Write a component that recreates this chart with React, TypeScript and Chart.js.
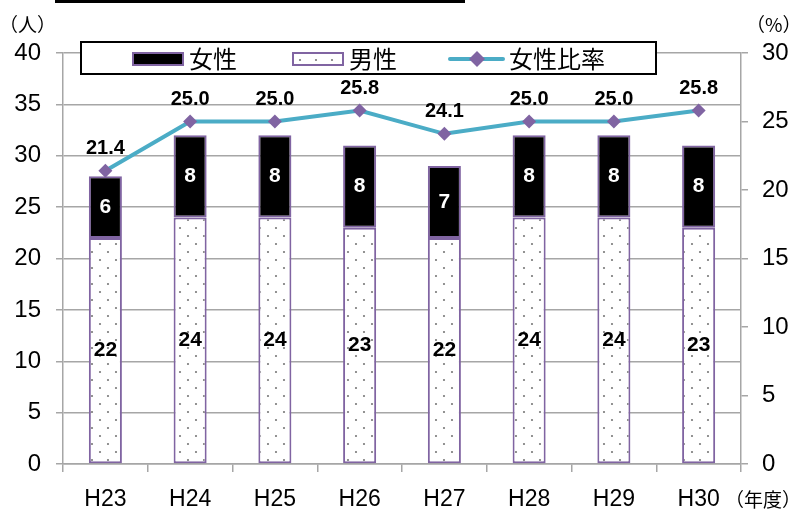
import React, { useEffect, useRef } from "react";
import { Chart, registerables } from "chart.js";

Chart.register(...registerables);

const categories = ["H23", "H24", "H25", "H26", "H27", "H28", "H29", "H30"];
const femaleCounts = [6, 8, 8, 8, 7, 8, 8, 8];
const maleCounts = [22, 24, 24, 23, 22, 24, 24, 23];
const femaleRatio = [21.4, 25.0, 25.0, 25.8, 24.1, 25.0, 25.0, 25.8];
const leftTicks = [0, 5, 10, 15, 20, 25, 30, 35, 40];
const rightTicks = [0, 5, 10, 15, 20, 25, 30];
const legendLabels = ["女性", "男性", "女性比率"];

const PURPLE = "#8064A2";
const TEAL = "#4BACC6";
const GRID = "#a6a6a6";
const NUM_FONT = "'Liberation Sans', Arial, sans-serif";
const CJK_FONT = "'Noto Sans CJK JP', 'Noto Sans', sans-serif";

function makeDotPattern(ctx: CanvasRenderingContext2D): CanvasPattern | string {
  const c = document.createElement("canvas");
  c.width = 16;
  c.height = 16;
  const g = c.getContext("2d");
  if (!g) return "#ffffff";
  g.fillStyle = "#ffffff";
  g.fillRect(0, 0, 16, 16);
  g.fillStyle = "#7a7a7a";
  g.beginPath();
  g.arc(4, 4, 1.1, 0, Math.PI * 2);
  g.arc(12, 12, 1.1, 0, Math.PI * 2);
  g.fill();
  return ctx.createPattern(c, "repeat") || "#ffffff";
}

export default function App() {
  const ref = useRef<HTMLCanvasElement | null>(null);

  useEffect(() => {
    document.body.style.margin = "0";
    const canvas = ref.current;
    if (!canvas) return;
    const ctx0 = canvas.getContext("2d")!;
    const dots = makeDotPattern(ctx0);

    const labelsPlugin = {
      id: "valueLabels",
      afterDatasetsDraw(chart: any) {
        const ctx = chart.ctx as CanvasRenderingContext2D;
        ctx.save();
        ctx.textAlign = "center";
        ctx.textBaseline = "middle";
        chart.data.datasets.forEach((ds: any, i: number) => {
          const meta = chart.getDatasetMeta(i);
          if (ds.type === "line") {
            ctx.font = `bold 20px ${NUM_FONT}`;
            ctx.fillStyle = "#000";
            meta.data.forEach((el: any, j: number) => {
              ctx.fillText(Number(ds.data[j]).toFixed(1), el.x, el.y - 22);
            });
          } else {
            ctx.font = `bold 21px ${NUM_FONT}`;
            ctx.fillStyle = ds.labelColor;
            meta.data.forEach((el: any, j: number) => {
              const p = el.getProps(["x", "y", "base"], true);
              ctx.fillText(String(ds.data[j]), p.x, (p.y + p.base) / 2);
            });
          }
        });
        ctx.restore();
      },
      afterDraw(chart: any) {
        const ctx = chart.ctx as CanvasRenderingContext2D;
        ctx.save();
        ctx.fillStyle = "#fff";
        ctx.fillRect(81, 42, 575, 32);
        ctx.strokeStyle = "#000";
        ctx.lineWidth = 2;
        ctx.strokeRect(81, 42, 575, 32);
        ctx.fillStyle = "#000";
        ctx.fillRect(133, 53, 50, 12);
        ctx.strokeStyle = PURPLE;
        ctx.lineWidth = 2;
        ctx.strokeRect(133, 53, 50, 12);
        ctx.fillStyle = dots as any;
        ctx.fillRect(293, 53, 50, 12);
        ctx.strokeRect(293, 53, 50, 12);
        ctx.strokeStyle = TEAL;
        ctx.lineWidth = 4;
        ctx.lineCap = "round";
        ctx.beginPath();
        ctx.moveTo(450, 59);
        ctx.lineTo(503, 59);
        ctx.stroke();
        ctx.fillStyle = PURPLE;
        ctx.beginPath();
        ctx.moveTo(477, 51);
        ctx.lineTo(485, 59);
        ctx.lineTo(477, 67);
        ctx.lineTo(469, 59);
        ctx.closePath();
        ctx.fill();
        ctx.fillStyle = "#000";
        ctx.font = `24px ${CJK_FONT}`;
        ctx.textAlign = "left";
        ctx.textBaseline = "middle";
        ctx.fillText(legendLabels[0], 189, 59);
        ctx.fillText(legendLabels[1], 349, 59);
        ctx.fillText(legendLabels[2], 509, 59);
        ctx.restore();
      },
    };

    const chart = new Chart(canvas, {
      type: "bar",
      data: {
        labels: categories,
        datasets: [
          {
            type: "line",
            label: legendLabels[2],
            data: femaleRatio,
            yAxisID: "y1",
            borderColor: TEAL,
            borderWidth: 4,
            pointStyle: "rectRot",
            pointRadius: 7,
            pointBackgroundColor: PURPLE,
            pointBorderColor: PURPLE,
            pointBorderWidth: 0,
            tension: 0,
            order: 0,
          } as any,
          {
            type: "bar",
            label: legendLabels[1],
            data: maleCounts,
            yAxisID: "y",
            backgroundColor: dots as any,
            borderColor: PURPLE,
            borderWidth: 2,
            borderSkipped: false,
            barPercentage: 0.39,
            categoryPercentage: 1,
            labelColor: "#000",
            order: 1,
          } as any,
          {
            type: "bar",
            label: legendLabels[0],
            data: femaleCounts,
            yAxisID: "y",
            backgroundColor: "#000",
            borderColor: PURPLE,
            borderWidth: 2,
            borderSkipped: false,
            barPercentage: 0.39,
            categoryPercentage: 1,
            labelColor: "#fff",
            order: 1,
          } as any,
        ],
      },
      options: {
        responsive: false,
        animation: false,
        devicePixelRatio: 1,
        layout: { padding: { top: 53, left: 0, right: 0, bottom: 0 } },
        plugins: {
          legend: { display: false },
          tooltip: { enabled: false },
          title: { display: false },
        },
        scales: {
          x: {
            stacked: true,
            offset: true,
            grid: {
              offset: true,
              drawOnChartArea: false,
              drawTicks: true,
              tickLength: 8,
              color: GRID,
              lineWidth: 1.5,
            },
            border: { color: GRID, width: 1.5 },
            ticks: {
              color: "#000",
              font: { family: NUM_FONT, size: 23 },
              padding: 14,
            },
            afterFit: (axis: any) => {
              axis.height = 45;
            },
          },
          y: {
            stacked: true,
            position: "left",
            min: 0,
            max: 40,
            afterBuildTicks: (axis: any) => {
              axis.ticks = leftTicks.map((v) => ({ value: v }));
            },
            grid: {
              color: GRID,
              lineWidth: 1.5,
              drawTicks: true,
              tickLength: 7,
            },
            border: { color: GRID, width: 1.5 },
            ticks: {
              color: "#000",
              font: { family: NUM_FONT, size: 24 },
              padding: 15,
            },
            afterFit: (axis: any) => {
              axis.width = 63;
            },
          },
          y1: {
            stacked: false,
            position: "right",
            min: 0,
            max: 30,
            afterBuildTicks: (axis: any) => {
              axis.ticks = rightTicks.map((v) => ({ value: v }));
            },
            grid: {
              drawOnChartArea: false,
              drawTicks: true,
              tickLength: 7,
              color: GRID,
              lineWidth: 1.5,
            },
            border: { color: GRID, width: 1.5 },
            ticks: {
              color: "#000",
              font: { family: NUM_FONT, size: 24 },
              padding: 14,
            },
            afterFit: (axis: any) => {
              axis.width = 60;
            },
          },
        },
      },
      plugins: [labelsPlugin],
    });

    return () => {
      chart.destroy();
    };
  }, []);

  const titleStyle: React.CSSProperties = {
    position: "absolute",
    fontFamily: CJK_FONT,
    fontSize: 19,
    color: "#000",
    whiteSpace: "nowrap",
    lineHeight: "20px",
  };

  return (
    <div style={{ position: "relative", width: 801, height: 509, background: "#fff", overflow: "hidden" }}>
      <canvas ref={ref} width={801} height={509} style={{ display: "block" }} />
      <div style={{ position: "absolute", left: 55, top: 0, width: 410, height: 3, background: "#000" }} />
      <div style={{ ...titleStyle, left: -1, top: 14 }}>（人）</div>
      <div style={{ ...titleStyle, left: 746, top: 14 }}>（%）</div>
      <div style={{ ...titleStyle, left: 725, top: 489 }}>（年度）</div>
    </div>
  );
}
